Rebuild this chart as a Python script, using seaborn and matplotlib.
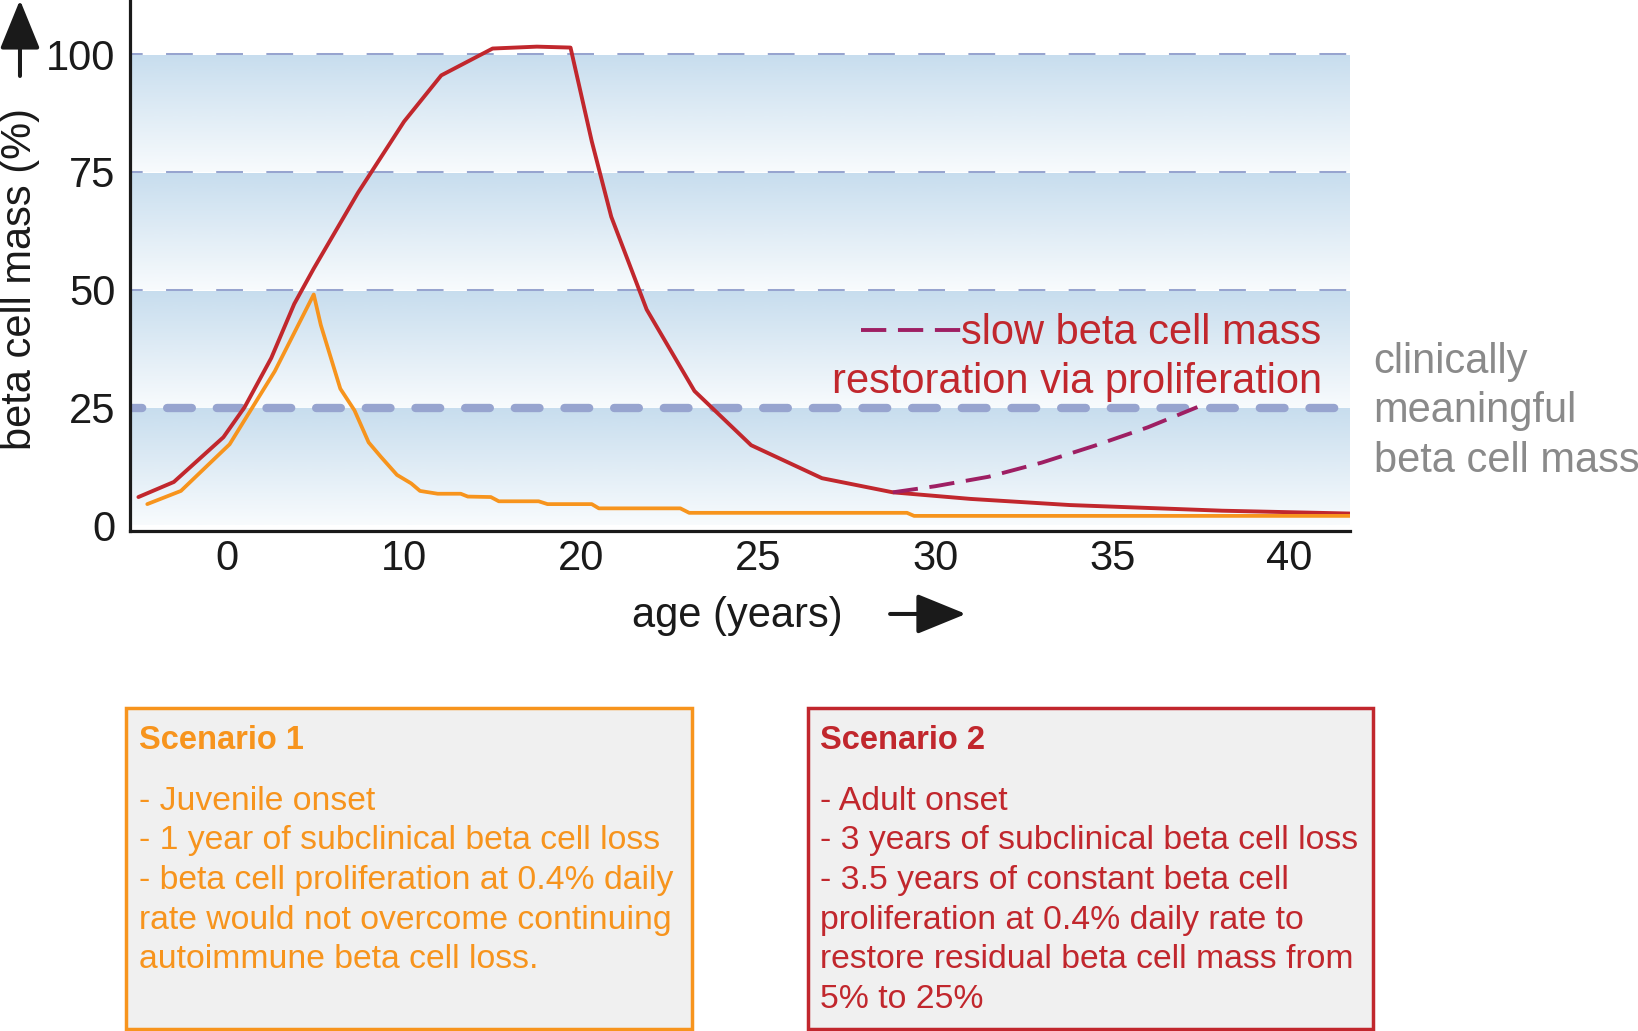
import numpy as np
import pandas as pd
import seaborn as sns
import matplotlib.pyplot as plt
from matplotlib.lines import Line2D
from matplotlib.patches import Rectangle, FancyArrowPatch
from matplotlib.colors import LinearSegmentedColormap

# values: age (years) vs beta cell mass (%)
juvenile_age = [-4.5, -2.6, 0.15, 2.7, 4.9, 5.3, 6.4, 7.2, 8.0, 8.7, 9.6, 10.4, 10.9, 11.9,
                13.2, 13.6, 14.9, 15.35, 17.6, 18.1, 20.3, 20.5, 22.8, 23.05, 29.2, 29.4, 41.7]
juvenile_mass = [4.5, 7.3, 17.2, 32.7, 49.0, 42.5, 29.0, 24.4, 17.6, 14.5, 10.7, 8.9, 7.3, 6.7,
                 6.7, 6.1, 6.0, 5.1, 5.1, 4.5, 4.5, 3.6, 3.6, 2.65, 2.65, 2.0, 2.0]

adult_age = [-5.0, -3.0, -0.2, 1.0, 2.5, 3.8, 4.9, 7.4, 10.0, 12.1, 15.0, 17.5, 19.4, 20.3,
             20.85, 21.85, 23.2, 24.8, 26.8, 28.8, 31.0, 33.8, 38.1, 41.7]
adult_mass = [6.0, 9.2, 18.7, 25.1, 35.5, 47.0, 54.5, 70.6, 85.7, 95.5, 101.2, 101.6, 101.4, 81.5,
              65.5, 45.8, 28.5, 17.0, 10.0, 7.0, 5.6, 4.3, 3.1, 2.5]

regrowth_age = [28.8, 30.0, 31.5, 33.0, 34.5, 36.0, 37.4]
regrowth_mass = [7.0, 8.3, 10.3, 13.3, 16.9, 20.8, 25.1]

band_levels = [25, 50, 75, 100]
x_ticks = [0, 10, 20, 25, 30, 35, 40]

scenario1_title = "Scenario 1"
scenario1_lines = ["- Juvenile onset",
                   "- 1 year of subclinical beta cell loss",
                   "- beta cell proliferation at 0.4% daily",
                   "rate would not overcome continuing",
                   "autoimmune beta cell loss."]
scenario2_title = "Scenario 2"
scenario2_lines = ["- Adult onset",
                   "- 3 years of subclinical beta cell loss",
                   "- 3.5 years of constant beta cell",
                   "proliferation at 0.4% daily rate to",
                   "restore residual beta cell mass from",
                   "5% to 25%"]

ORANGE = "#f7941d"
RED = "#c1272d"
PURPLE = "#9e1f63"
DASH = "#97a4cf"
GREY = "#8a8a8a"
INK = "#1a1a1a"

sns.set_theme(style="white")
plt.rcParams["font.family"] = ["Liberation Sans", "DejaVu Sans"]

fig = plt.figure(figsize=(16.38, 10.31), dpi=100)
ax = fig.add_axes([0.0791, 0.485, 0.7449, 0.515])


# the age axis gives 0-20 the same room as 20-30
def fwd(a):
    a = np.asarray(a, dtype=float)
    return np.where(a <= 20, a / 10, 2 + (a - 20) / 5)


def inv(p):
    p = np.asarray(p, dtype=float)
    return np.where(p <= 2, p * 10, 20 + (p - 2) * 5)


ax.set_xscale("function", functions=(fwd, inv))

# blue bands fading to white
grad = np.linspace(0, 1, 256).reshape(-1, 1)
band_cmap = LinearSegmentedColormap.from_list("band", ["#f8fbfd", "#c7ddee"])
for lo, hi in zip([0] + band_levels[:-1], band_levels):
    ax.imshow(grad, cmap=band_cmap, extent=(0, 1, lo, hi), origin="lower", aspect="auto",
              transform=ax.get_yaxis_transform(), interpolation="bilinear", zorder=0)

for lvl in band_levels[1:]:
    ax.axhline(lvl, color=DASH, lw=1.45, linestyle=(7, (13.3, 11.6)), zorder=1)
ax.axhline(band_levels[0], color=DASH, lw=6, linestyle=(1.5, (2.96, 3.0)),
           dash_capstyle="round", zorder=1)

adult = pd.DataFrame({"age": adult_age, "mass": adult_mass})
juvenile = pd.DataFrame({"age": juvenile_age, "mass": juvenile_mass})
regrowth = pd.DataFrame({"age": regrowth_age, "mass": regrowth_mass})

sns.lineplot(data=adult, x="age", y="mass", sort=False, estimator=None, color=RED, lw=2.8, ax=ax, zorder=3)
sns.lineplot(data=juvenile, x="age", y="mass", sort=False, estimator=None, color=ORANGE, lw=2.7, ax=ax, zorder=3)
sns.lineplot(data=regrowth, x="age", y="mass", sort=False, estimator=None, color=PURPLE, lw=2.8,
             dashes=False, ax=ax, zorder=4)
ax.lines[-1].set_dashes((6.5, 3.0))

ax.set_xlim(-5.5, 41.7)
ax.set_ylim(-1.2, 111.5)
ax.set_xticks(x_ticks)
ax.set_xticklabels([str(t) for t in x_ticks])
ax.set_yticks([0] + band_levels)
ax.set_yticklabels([str(t) for t in [0] + band_levels])
ax.tick_params(length=0)
ax.tick_params(axis="y", pad=10)
ax.tick_params(axis="x", pad=6)
for lab in ax.get_xticklabels() + ax.get_yticklabels():
    lab.set_fontsize(30)
    lab.set_color(INK)
ax.set_xlabel("")
ax.set_ylabel("")
for side in ["top", "right"]:
    ax.spines[side].set_visible(False)
for side in ["left", "bottom"]:
    ax.spines[side].set_color(INK)
    ax.spines[side].set_linewidth(2.3)

key = Line2D([], [], color=PURPLE, lw=2.8, dashes=(6.5, 3.0))
ax.legend(handles=[key], labels=["slow beta cell mass"], loc="center right",
          bbox_to_anchor=(0.977, 0.372), frameon=False, handlelength=2.4, handletextpad=0.0,
          borderpad=0, borderaxespad=0, labelcolor=RED, prop={"size": 30})
ax.text(0.977, 0.281, "restoration via proliferation", transform=ax.transAxes, ha="right",
        va="center", color=RED, fontsize=30)

fig.text(0.8386, 0.601, "clinically\nmeaningful\nbeta cell mass", ha="left", va="center",
         color=GREY, fontsize=30, linespacing=1.3)

fig.text(0.0122, 0.7295, "beta cell mass (%)", rotation=90, ha="center", va="center",
         fontsize=30, color=INK)
fig.text(0.450, 0.4022, "age (years)", ha="center", va="center", fontsize=30, color=INK)

arrow_style = "-|>,head_length=0.76,head_width=0.31"
fig.add_artist(FancyArrowPatch((0.0122, 0.9263), (0.0122, 1.0), transform=fig.transFigure,
                               arrowstyle=arrow_style, mutation_scale=40, lw=2.9, color=INK,
                               shrinkA=0, shrinkB=0))
fig.add_artist(FancyArrowPatch((0.5434, 0.4045), (0.5897, 0.4045), transform=fig.transFigure,
                               arrowstyle=arrow_style, mutation_scale=40, lw=2.9, color=INK,
                               shrinkA=0, shrinkB=0))

# scenario boxes
boxes = [(0.0772, ORANGE, scenario1_title, scenario1_lines),
         (0.4930, RED, scenario2_title, scenario2_lines)]
for x0, col, title, lines in boxes:
    fig.add_artist(Rectangle((x0, 0.002), 0.345, 0.311, transform=fig.transFigure,
                             facecolor="#f0f0f0", edgecolor=col, lw=2.5))
    fig.text(x0 + 0.0076, 0.2817, title, ha="left", va="center", color=col,
             fontsize=23.5, fontweight="bold")
    for i, line in enumerate(lines):
        fig.text(x0 + 0.0076, 0.2229 - i * 0.0385, line, ha="left", va="center",
                 color=col, fontsize=24.3)

fig.savefig("out.png", dpi=100)
